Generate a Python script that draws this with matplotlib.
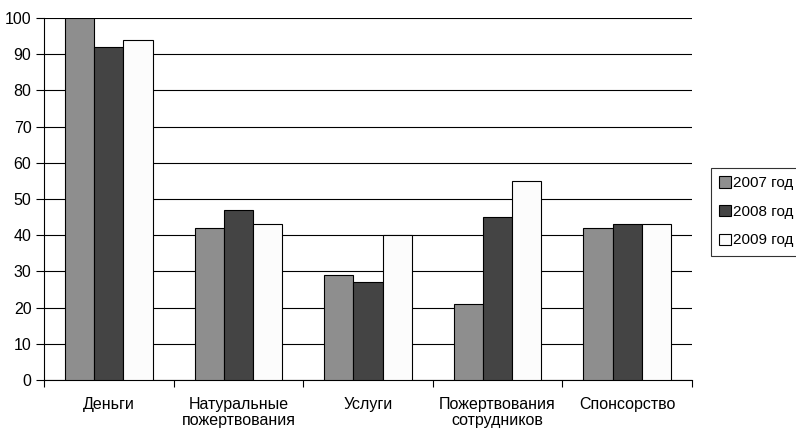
import matplotlib
matplotlib.use("Agg")
import matplotlib.pyplot as plt
import numpy as np

plt.rcParams['font.family'] = ['Liberation Sans', 'DejaVu Sans']

categories = ["Деньги", "Натуральные\nпожертвования", "Услуги", "Пожертвования\nсотрудников", "Спонсорство"]
series_names = ["2007 год", "2008 год", "2009 год"]
v2007 = [100, 42, 29, 21, 42]
v2008 = [92, 47, 27, 45, 43]
v2009 = [94, 43, 40, 55, 43]
yticks = [0, 10, 20, 30, 40, 50, 60, 70, 80, 90, 100]

colors = ["#8e8e8e", "#444444", "#fcfcfc"]

fig = plt.figure(figsize=(7.96, 4.28), dpi=100)
ax = fig.add_axes([44/796, 1-380/428, (692-44)/796, (380-18)/428])

x = np.arange(len(categories))
w = 0.225
for i, (vals, name, c) in enumerate(zip([v2007, v2008, v2009], series_names, colors)):
    ax.bar(x + (i-1)*w, vals, w, color=c, edgecolor="black", linewidth=0.8, label=name, zorder=3)

ax.set_xlim(-0.5, len(categories)-0.5)
ax.set_ylim(0, 100)
ax.set_yticks(yticks)
ax.yaxis.grid(True, color="black", linewidth=0.8, zorder=0)
ax.set_axisbelow(True)
for s in ["top", "right"]:
    ax.spines[s].set_visible(False)
ax.spines["left"].set_linewidth(0.8)
ax.spines["bottom"].set_linewidth(0.8)

ax.set_xticks(x)
ax.set_xticklabels(categories, fontsize=11.5, linespacing=1.1)
ax.tick_params(axis="x", which="major", length=0, pad=12)
ax.set_xticks(np.arange(-0.5, len(categories), 1.0), minor=True)
ax.tick_params(axis="x", which="minor", length=5, width=0.8, direction="out")
ax.tick_params(axis="y", length=6, width=0.8, direction="out", labelsize=11.5, pad=3)

leg = fig.legend(loc="upper left", bbox_to_anchor=(711/796, 1-168/428), frameon=True,
                 fancybox=False, edgecolor="black", fontsize=11, handlelength=0.75,
                 handleheight=0.75, handletextpad=0.12, borderpad=0.55, labelspacing=0.95,
                 borderaxespad=0)
leg.get_frame().set_linewidth(0.8)

fig.savefig("out.png", dpi=100)
